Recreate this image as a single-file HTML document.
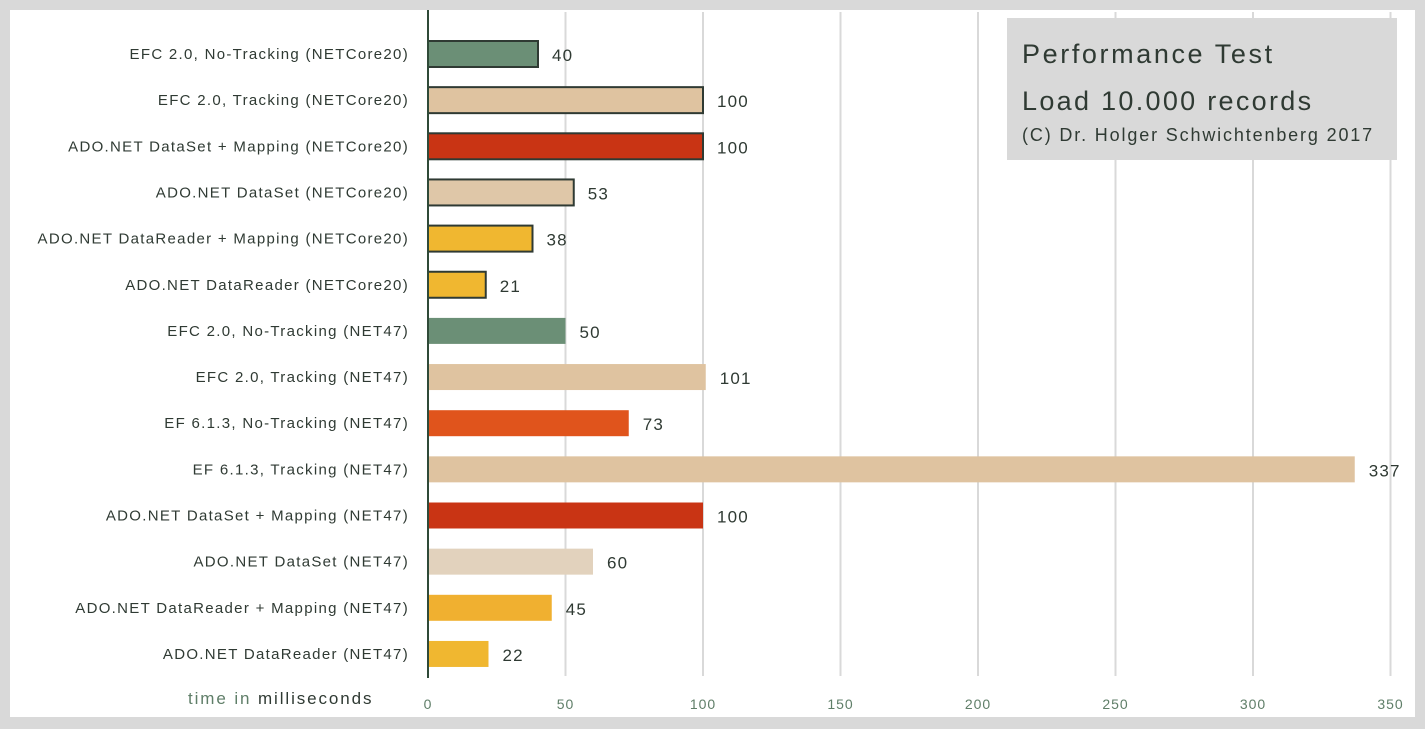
<!DOCTYPE html>
<html><head><meta charset="utf-8"><style>
body{margin:0;background:#d9d9d9;}
svg{display:block;font-family:"Liberation Sans",sans-serif;}
</style></head><body>
<svg width="1425" height="729">
<rect x="0" y="0" width="1425" height="729" fill="#d9d9d9"/>
<rect x="10" y="10" width="1405" height="707" fill="#ffffff"/>
<g id="grid"></g>
<g id="bars"></g>
<rect x="1007" y="18" width="390" height="142" fill="#d9d9d9"/>
<text x="1022" y="63" font-size="27" letter-spacing="2.6" fill="#2f3a33">Performance Test</text>
<text x="1022" y="110" font-size="27" letter-spacing="2.3" fill="#2f3a33">Load 10.000 records</text>
<text x="1022" y="141" font-size="18" letter-spacing="1.85" fill="#2f3a33">(C) Dr. Holger Schwichtenberg 2017</text>
<text x="188" y="704" font-size="17" letter-spacing="1.9" fill="#5f7e68">time in <tspan fill="#2f3a33">milliseconds</tspan></text>
</svg>
<script>
const categories=["EFC 2.0, No-Tracking (NETCore20)","EFC 2.0, Tracking (NETCore20)","ADO.NET DataSet + Mapping (NETCore20)","ADO.NET DataSet (NETCore20)","ADO.NET DataReader + Mapping (NETCore20)","ADO.NET DataReader (NETCore20)","EFC 2.0, No-Tracking (NET47)","EFC 2.0, Tracking (NET47)","EF 6.1.3, No-Tracking (NET47)","EF 6.1.3, Tracking (NET47)","ADO.NET DataSet + Mapping (NET47)","ADO.NET DataSet (NET47)","ADO.NET DataReader + Mapping (NET47)","ADO.NET DataReader (NET47)"];
const values=[40,100,100,53,38,21,50,101,73,337,100,60,45,22];
const colors=["#6b8f76","#dfc3a0","#c93414","#dfc7a8","#f0b730","#f0b730","#6b8f76","#dfc3a0","#e0541c","#dfc3a0","#c93414","#e2d2bd","#f0b030","#f0b730"];
const ticks=[0,50,100,150,200,250,300,350];
const ns="http://www.w3.org/2000/svg";
const x=v=>428+v*2.75;
const y=i=>54+i*46.15;
const grid=document.getElementById('grid'),bars=document.getElementById('bars');
function mk(tag,attrs,parent){const e=document.createElementNS(ns,tag);for(const k in attrs)e.setAttribute(k,attrs[k]);parent.appendChild(e);return e;}
ticks.forEach(t=>{
 if(t>0){const g=mk('line',{x1:x(t),x2:x(t),y1:12,y2:676,stroke:'#d9d9d9','stroke-width':2},grid);
 
 }
 const tl=mk('text',{x:x(t),y:709,'font-size':14,'letter-spacing':1,'text-anchor':'middle',fill:'#5f7e68'},grid);tl.textContent=t;
 
 
});
categories.forEach((c,i)=>{
 const border=i<6;
 const r=mk('rect',{x:x(0),y:y(i)-13,width:x(values[i])-x(0),height:26,fill:colors[i]},bars);
 if(border){r.setAttribute('stroke','#2f3a33');r.setAttribute('stroke-width','2');}
 
 
 const lb=mk('text',{x:409,y:y(i)+5,'font-size':15,'letter-spacing':1.3,'text-anchor':'end',fill:'#2f3a33'},bars);lb.textContent=c;
 
 
 const vl=mk('text',{x:x(values[i])+14,y:y(i)+7,'font-size':17,'letter-spacing':1.2,fill:'#2f3a33'},bars);vl.textContent=values[i];
 
 
});
const ax=mk('line',{x1:428,x2:428,y1:10,y2:678,stroke:'#2f4a38','stroke-width':2},bars);


</script>
</body></html>
